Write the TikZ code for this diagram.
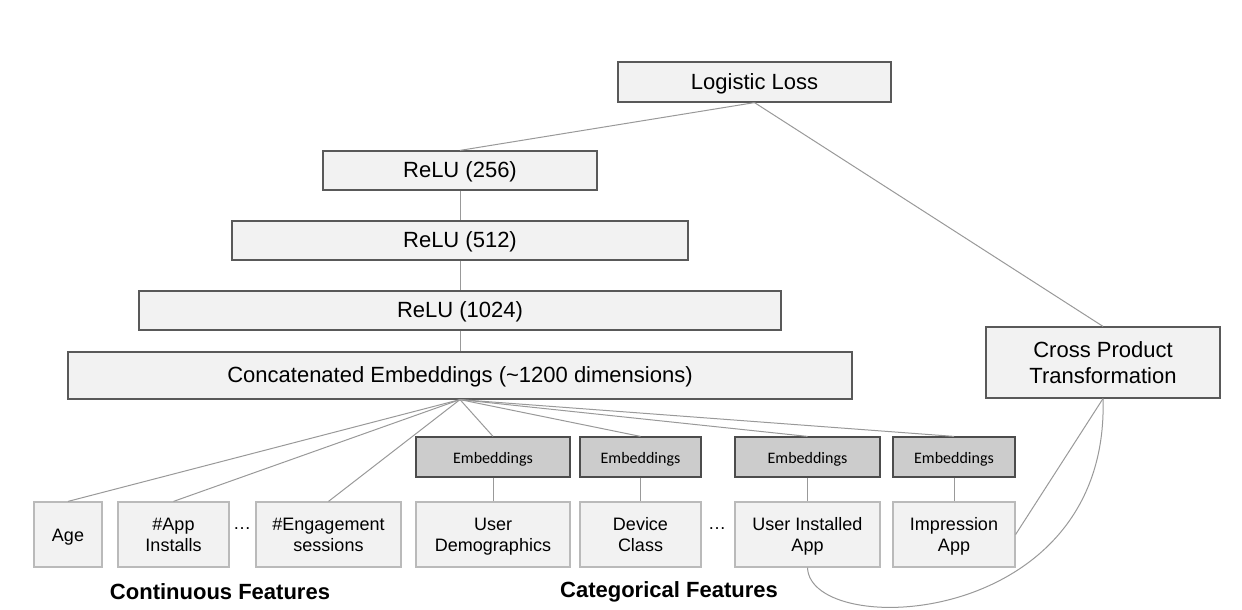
\documentclass[tikz,border=0pt]{standalone}
\usepackage{fontspec}
\setmainfont{Liberation Sans}
\newfontfamily\embfont{Carlito}
\usetikzlibrary{positioning}
\tikzset{
    layerbox/.style = {rectangle, line width=0.6pt, draw=black!65, fill=black!5, align=center, inner sep=0pt, font=\fontsize{11}{13}\selectfont},
    onerow/.style = {text height=0.72em, text depth=0pt},
    tworows/.style = {text height=17pt, text depth=0pt},
    embbox/.style = {rectangle, line width=0.6pt, draw=black!70, fill=black!20, align=center, inner sep=0pt, minimum height=20pt, text height=0.65em, text depth=0pt, font=\embfont\fontsize{8}{10}\selectfont},
    featbox/.style = {rectangle, line width=0.6pt, draw=black!27, fill=black!5, align=center, inner sep=0pt, minimum height=32.5pt, font=\fontsize{9}{10.5}\selectfont},
    grouplabel/.style = {font=\bfseries\fontsize{11}{13}\selectfont},
    edgeg/.style = {-, line width=0.5pt, black!40}
}

\begin{document}
\begin{tikzpicture}[x=0.5pt, y=-0.5pt]
\useasboundingbox (0,0) rectangle (1242,610);
% layers
\node[layerbox, onerow, minimum width=136.5pt, minimum height=20pt] (loss) at (754.5,82) {Logistic Loss};
\node[layerbox, onerow, minimum width=137pt, minimum height=19.5pt] (relu256) at (460,170.5) {ReLU (256)};
\node[layerbox, onerow, minimum width=228pt, minimum height=19.5pt] (relu512) at (460,240.5) {ReLU (512)};
\node[layerbox, onerow, minimum width=321pt, minimum height=19.5pt] (relu1024) at (460,310.5) {ReLU (1024)};
\node[layerbox, onerow, minimum width=392pt, minimum height=23.5pt] (concat) at (460,375.5) {Concatenated Embeddings (\char`~1200 dimensions)};
\node[layerbox, text height=21pt, text depth=0pt, minimum width=117pt, minimum height=35.5pt] (cross) at (1103,362.5) {Cross Product\\Transformation};
% embeddings
\node[embbox, minimum width=77pt] (embA) at (493,457) {Embeddings};
\node[embbox, minimum width=60.5pt] (embB) at (640.5,457) {Embeddings};
\node[embbox, minimum width=72.5pt] (embC) at (807.5,457) {Embeddings};
\node[embbox, minimum width=61pt] (embD) at (954,457) {Embeddings};
% features
\node[featbox, onerow, minimum width=34pt] (age) at (68,534.5) {Age};
\node[featbox, tworows, minimum width=55.5pt] (installs) at (173.5,534.5) {\#App\\Installs};
\node[featbox, tworows, minimum width=72.5pt] (sessions) at (328.5,534.5) {\#Engagement\\sessions};
\node[featbox, tworows, minimum width=77pt] (demo) at (493,534.5) {User\\Demographics};
\node[featbox, tworows, minimum width=60.5pt] (device) at (640.5,534.5) {Device\\Class};
\node[featbox, tworows, minimum width=72.5pt] (userapp) at (807.5,534.5) {User Installed\\App};
\node[featbox, tworows, minimum width=61pt] (impapp) at (954,534.5) {Impression\\App};
\node[font=\fontsize{9}{10}\selectfont] (dotsA) at (242,529) {\dots};
\node[font=\fontsize{9}{10}\selectfont] (dotsB) at (717,529) {\dots};
\node[grouplabel] (contlabel) at (220,592) {Continuous Features};
\node[grouplabel] (catlabel) at (669,592) {Categorical Features};
% connectors
\draw[edgeg] (loss.south) -- (relu256.north);
\draw[edgeg] (loss.south) -- (cross.north);
\draw[edgeg] (relu256) -- (relu512);
\draw[edgeg] (relu512) -- (relu1024);
\draw[edgeg] (relu1024) -- (concat);
\draw[edgeg] (concat.south) -- (age.north);
\draw[edgeg] (concat.south) -- (installs.north);
\draw[edgeg] (concat.south) -- (sessions.north);
\draw[edgeg] (concat.south) -- (embA.north);
\draw[edgeg] (concat.south) -- (embB.north);
\draw[edgeg] (concat.south) -- (embC.north);
\draw[edgeg] (concat.south) -- (embD.north);
\draw[edgeg] (embA) -- (demo);
\draw[edgeg] (embB) -- (device);
\draw[edgeg] (embC) -- (userapp);
\draw[edgeg] (embD) -- (impapp);
\draw[edgeg] (impapp.east) -- (cross.south);
\draw[edgeg] (userapp.south) .. controls (810,640) and (1110,630) .. (cross.south);
\end{tikzpicture}
\end{document}
